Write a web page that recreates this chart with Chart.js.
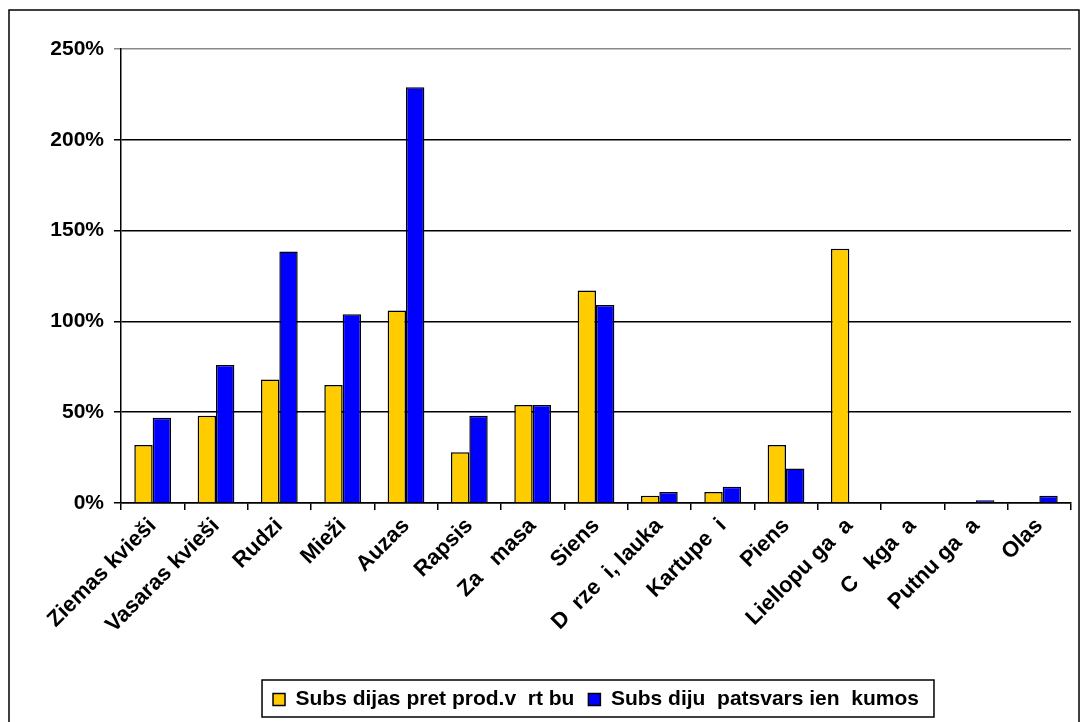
<!DOCTYPE html>
<html>
<head>
<meta charset="utf-8">
<script src="https://cdn.jsdelivr.net/npm/chart.js@4"></script>
<style>
  body { margin: 0; background: #fff; }
  #wrap { width: 1083px; height: 722px; position: relative; }
</style>
</head>
<body>
<div id="wrap"><canvas id="myChart"></canvas></div>
<script>
const labels = ["Ziemas kvieši", "Vasaras kvieši", "Rudzi", "Mieži", "Auzas", "Rapsis", "Za   masa", "Siens",
    "D  rze  i, lauka", "Kartupe  i", "Piens", "Liellopu ga  a", "C   kga  a", "Putnu ga  a", "Olas"];
const seriesNames = ["Subs dijas pret prod.v  rt bu", "Subs diju  patsvars ien  kumos"];
const pretVertibu = [32, 48, 68, 65, 106, 28, 54, 117, 4, 6, 32, 140, 0, 0.5, 0];
const patsvars = [47, 76, 138.5, 104, 229, 48, 54, 109, 6, 9, 19, 0, 0, 1.5, 4];
const yTicks = [0, 50, 100, 150, 200, 250];

// rāmis ap visu un ap leģendu, leģendu centrē zem grafika
const frames = {
    id: "frames",
    afterLayout(chart) {
        const lg = chart.legend;
        const shift = (chart.chartArea.left + chart.chartArea.right) / 2 - (lg.left + lg.right) / 2;
        lg.left += shift;
        lg.right += shift;
    },
    afterDraw(chart) {
        const c = chart.ctx;
        const lg = chart.legend;
        c.save();
        c.strokeStyle = "#000";
        c.lineWidth = 1.5;
        c.strokeRect(9, 10, 1070, 720);
        const w = lg.lineWidths ? lg.lineWidths[0] : 0;
        const cx = (lg.left + lg.right) / 2;
        c.strokeRect(cx - w / 2 - 4, lg.top + 5, w + 12, lg.bottom - lg.top - 8);
        c.restore();
    },
};

const data = {
    labels: labels,
    datasets: [
        {
            label: seriesNames[0],
            data: pretVertibu,
            backgroundColor: "#FFCC00",
            borderColor: "#000",
            borderWidth: 1.5,
        },
        {
            label: seriesNames[1],
            data: patsvars,
            backgroundColor: "#0000FF",
            borderColor: "#000",
            borderWidth: 1.5,
        },
    ],
};

const config = {
    type: "bar",
    data,
    options: {
        responsive: true,
        maintainAspectRatio: false,
        animation: false,
        categoryPercentage: 0.58,
        barPercentage: 1,
        layout: {
            padding: { left: 40, right: 12, top: 49, bottom: 2 },
        },
        plugins: {
            legend: {
                position: "bottom",
                labels: {
                    boxWidth: 12,
                    boxHeight: 12,
                    padding: 14,
                    color: "#000",
                    font: { family: "'Liberation Sans', Arial", size: 21, weight: "bold" },
                },
            },
            tooltip: { enabled: false },
        },
        scales: {
            x: {
                offset: true,
                afterFit: (axis) => { axis.height = 172; },
                grid: {
                    offset: true,
                    drawOnChartArea: false,
                    tickLength: 7,
                    color: "#000",
                    lineWidth: 1.5,
                },
                border: { color: "#000", width: 1.5 },
                ticks: {
                    maxRotation: 45,
                    minRotation: 45,
                    autoSkip: false,
                    color: "#000",
                    font: { family: "'Liberation Sans', Arial", size: 22, weight: "bold" },
                },
            },
            y: {
                min: 0,
                max: 250,
                afterFit: (axis) => { axis.width = 81; },
                afterBuildTicks: (axis) => {
                    axis.ticks = yTicks.map(v => ({ value: v }));
                },
                grid: {
                    color: (c) => c.tick && c.tick.value === 250 ? "#888" : "#000",
                    lineWidth: 1.5,
                    tickLength: 7,
                },
                border: { color: "#000", width: 1.5 },
                ticks: {
                    color: "#000",
                    padding: 10,
                    callback: (v) => v + "%",
                    font: { family: "'Liberation Sans', Arial", size: 21, weight: "bold" },
                },
            },
        },
    },
    plugins: [frames],
};

const ctx = document.getElementById("myChart").getContext("2d");
const bars = new Chart(ctx, config);
</script>
</body>
</html>
